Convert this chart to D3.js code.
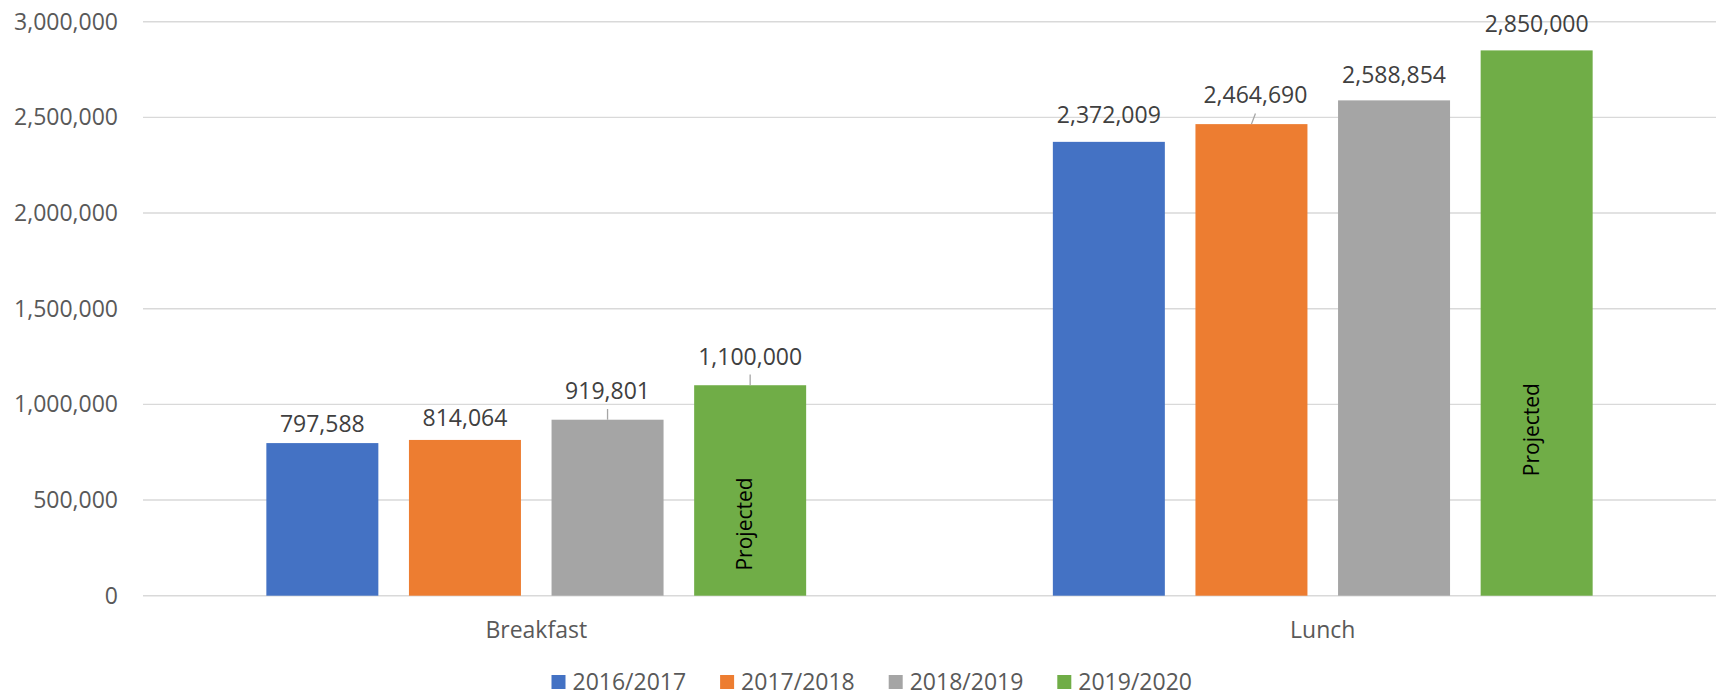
<!DOCTYPE html>
<html>
<head>
<meta charset="utf-8">
<script src="https://cdn.jsdelivr.net/npm/d3@7"></script>
<style>
  html, body { margin: 0; padding: 0; background: #ffffff; }
  svg { display: block; font-family: "Open Sans", "Noto Sans", sans-serif; }
</style>
</head>
<body>
<svg id="chart" width="1720" height="699"></svg>
<script>
// ---- data ----
const categories = ["Breakfast", "Lunch"];
const seriesNames = ["2016/2017", "2017/2018", "2018/2019", "2019/2020"];
const breakfastValues = [797588, 814064, 919801, 1100000];
const lunchValues = [2372009, 2464690, 2588854, 2850000];
const yTickValues = [0, 500000, 1000000, 1500000, 2000000, 2500000, 3000000];
const seriesColors = ["#4472C4", "#ED7D31", "#A5A5A5", "#70AD47"];
const projectedText = "Projected";
const projectedLabelAt = [375000, 868000];   // value-level where the "Projected" note is centred

// label styling (gap above bar top, horizontal nudge, leader line)
const labelGap = [[10.6, 14, 20.7, 20.7], [18.7, 20.7, 17.3, 18.3]];
const labelShift = [[0, 0, 0, 0], [0, 4, 0, 0]];
const labelLeader = [[false, false, true, true], [false, true, false, false]];

const valuesByCategory = [breakfastValues, lunchValues];

// ---- layout ----
const svg = d3.select("#chart");
const plotLeft = 143, plotRight = 1716, plotTop = 21.7, plotBottom = 595.7;
const fmt = d3.format(",");

const x0 = d3.scaleBand().domain(categories).range([plotLeft, plotRight]).padding(0);
const x1 = d3.scaleBand().domain(seriesNames).range([0, x0.bandwidth()])
  .paddingInner(0.2146).paddingOuter(0.865);
const y = d3.scaleLinear().domain([0, 3000000]).range([plotBottom, plotTop]);

// gridlines
svg.append("g").selectAll("line").data(yTickValues).join("line")
  .attr("x1", plotLeft).attr("x2", plotRight)
  .attr("y1", d => y(d)).attr("y2", d => y(d))
  .attr("stroke", "#d9d9d9").attr("stroke-width", 1.4);

// y axis labels
const yAxis = d3.axisLeft(y).tickValues(yTickValues).tickFormat(fmt).tickSize(0).tickPadding(25);
const yg = svg.append("g").attr("transform", `translate(${plotLeft},0)`).call(yAxis);
yg.select(".domain").remove();
yg.selectAll("text").attr("font-size", 23).attr("fill", "#595959")
  .attr("font-family", "Open Sans, Noto Sans, sans-serif").attr("dy", "0.32em");

// bars
const groups = svg.append("g").selectAll("g").data(categories).join("g")
  .attr("transform", d => `translate(${x0(d)},0)`);

groups.each(function (cat, ci) {
  const g = d3.select(this);
  const vals = valuesByCategory[ci];
  const rows = seriesNames.map((s, si) => ({ s, si, v: vals[si] }));

  g.selectAll("rect").data(rows).join("rect")
    .attr("x", d => x1(d.s)).attr("width", x1.bandwidth())
    .attr("y", d => y(d.v)).attr("height", d => y(0) - y(d.v))
    .attr("fill", d => seriesColors[d.si]);

  // leader lines
  g.selectAll("line.leader").data(rows.filter(d => labelLeader[ci][d.si])).join("line")
    .attr("class", "leader")
    .attr("x1", d => x1(d.s) + x1.bandwidth() / 2)
    .attr("y1", d => y(d.v))
    .attr("x2", d => x1(d.s) + x1.bandwidth() / 2 + labelShift[ci][d.si])
    .attr("y2", d => y(d.v) - labelGap[ci][d.si] + 10)
    .attr("stroke", "#a6a6a6").attr("stroke-width", 1.3);

  // value labels
  g.selectAll("text.val").data(rows).join("text")
    .attr("class", "val")
    .attr("x", d => x1(d.s) + x1.bandwidth() / 2 + labelShift[ci][d.si])
    .attr("y", d => y(d.v) - labelGap[ci][d.si])
    .attr("text-anchor", "middle").attr("font-size", 23).attr("fill", "#404040")
    .text(d => fmt(d.v));

  // "Projected" note inside the last bar
  const last = seriesNames[seriesNames.length - 1];
  const cx = x1(last) + x1.bandwidth() / 2;
  const cy = y(projectedLabelAt[ci]);
  g.append("text")
    .attr("transform", `translate(${cx},${cy}) rotate(-90)`)
    .attr("text-anchor", "middle").attr("dy", "0.1em")
    .attr("font-size", 21).attr("fill", "#000000")
    .text(projectedText);
});

// category labels
svg.append("g").selectAll("text").data(categories).join("text")
  .attr("x", d => x0(d) + x0.bandwidth() / 2).attr("y", 637.7)
  .attr("text-anchor", "middle").attr("font-size", 23).attr("fill", "#595959")
  .text(d => d);

// legend
const legendStart = 551.5, legendStep = 168.6, sw = 14;
const lg = svg.append("g").selectAll("g").data(seriesNames).join("g")
  .attr("transform", (d, i) => `translate(${legendStart + i * legendStep},0)`);
lg.append("rect").attr("x", 0).attr("y", 675).attr("width", sw).attr("height", sw)
  .attr("fill", (d, i) => seriesColors[i]);
lg.append("text").attr("x", sw + 7).attr("y", 690)
  .attr("font-size", 23).attr("fill", "#595959").text(d => d);
</script>
</body>
</html>
